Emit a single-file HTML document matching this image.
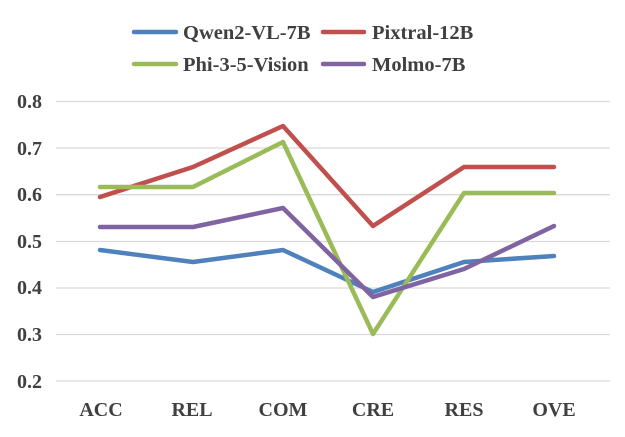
<!DOCTYPE html>
<html><head><meta charset="utf-8"><style>
html,body{margin:0;padding:0;background:#fff;}
svg{display:block;}
text{font-family:"Liberation Serif",serif;font-weight:bold;fill:#404040;}
</style></head><body>
<svg width="625" height="437" viewBox="0 0 625 437" xmlns="http://www.w3.org/2000/svg">
<g stroke="#d9d9d9" stroke-width="1.3">
<line x1="56" x2="610" y1="101.5" y2="101.5"/>
<line x1="56" x2="610" y1="148" y2="148"/>
<line x1="56" x2="610" y1="194.7" y2="194.7"/>
<line x1="56" x2="610" y1="241.5" y2="241.5"/>
<line x1="56" x2="610" y1="288" y2="288"/>
<line x1="56" x2="610" y1="334.5" y2="334.5"/>
<line x1="56" x2="610" y1="381" y2="381"/>
</g>
<g font-size="20" text-anchor="end">
<text x="42" y="108">0.8</text>
<text x="42" y="155">0.7</text>
<text x="42" y="201">0.6</text>
<text x="42" y="248">0.5</text>
<text x="42" y="294">0.4</text>
<text x="42" y="341">0.3</text>
<text x="42" y="388">0.2</text>
</g>
<g font-size="20" text-anchor="middle">
<text x="101" y="416">ACC</text>
<text x="192" y="416">REL</text>
<text x="283" y="416">COM</text>
<text x="373" y="416">CRE</text>
<text x="464" y="416">RES</text>
<text x="554" y="416">OVE</text>
</g>
<g fill="none" stroke-width="4.5" stroke-linejoin="round" stroke-linecap="round">
<polyline stroke="#4f81bd" points="100,250 193,262 283,250 373,292 464,262 554,256"/>
<polyline stroke="#c0504d" points="100,197 193,167 283,126 373,226 464,167 554,167"/>
<polyline stroke="#9bbb59" points="100,187 193,187 283,142 373,334 464,193 554,193"/>
<polyline stroke="#8064a2" points="100,227 193,227 283,208 373,297 464,269 554,226"/>
</g>
<g stroke-width="4.5" stroke-linecap="round">
<line x1="134" x2="176" y1="32" y2="32" stroke="#4f81bd"/>
<line x1="323" x2="364" y1="32" y2="32" stroke="#c0504d"/>
<line x1="134" x2="176" y1="64" y2="64" stroke="#9bbb59"/>
<line x1="323" x2="364" y1="64" y2="64" stroke="#8064a2"/>
</g>
<g font-size="20.5">
<text x="183" y="39">Qwen2-VL-7B</text>
<text x="372" y="39">Pixtral-12B</text>
<text x="183" y="71">Phi-3-5-Vision</text>
<text x="372" y="71">Molmo-7B</text>
</g>
</svg>
</body></html>
